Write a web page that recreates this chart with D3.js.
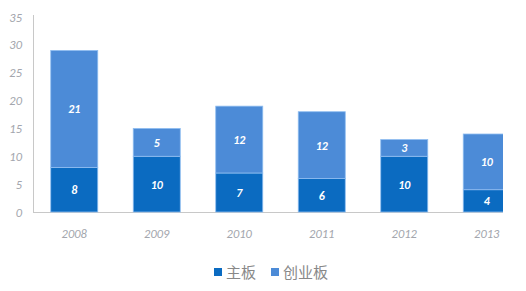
<!DOCTYPE html>
<html lang="zh-CN">
<head>
<meta charset="UTF-8">
<title>主板 / 创业板</title>
<script src="https://d3js.org/d3.v7.min.js"></script>
<style>
    body { margin: 0; background: #fff; }
    svg { display: block; font-family: Calibri, Carlito, "Open Sans", "DejaVu Sans", sans-serif; }
    .tick-label { font-size: 12.5px; font-style: italic; fill: #a3a6ad; }
    .bar-label { font-size: 12px; font-style: italic; font-weight: bold; fill: #fff; text-anchor: middle; }
    .legend-text { font-size: 15px; fill: #888; font-family: "Noto Sans CJK SC", sans-serif; }
</style>
</head>
<body>
<div id="chart"></div>
<script>
    const years = ["2008", "2009", "2010", "2011", "2012", "2013"];
    const mainBoard = [8, 10, 7, 6, 10, 4];
    const gemBoard = [21, 5, 12, 12, 3, 10];
    const seriesNames = ["主板", "创业板"];
    const seriesColors = ["#0b6bc1", "#4c8bd7"];
    const yTicks = [0, 5, 10, 15, 20, 25, 30, 35];

    const width = 526, height = 291;
    const axisX = 33;

    const svg = d3.select("#chart").append("svg")
        .attr("width", width)
        .attr("height", height);

    const x = d3.scaleBand()
        .domain(years)
        .range([axisX, 528])
        .paddingInner(0.43)
        .paddingOuter(0.215);

    const y = d3.scaleLinear()
        .domain([0, 35])
        .range([212, 17]);

    // 堆叠数据
    const rows = years.map((yr, i) => ({ year: yr, main: mainBoard[i], gem: gemBoard[i] }));
    const stack = d3.stack().keys(["main", "gem"])(rows);

    // 右边被裁切
    svg.append("clipPath").attr("id", "plot-clip")
        .append("rect").attr("x", 0).attr("y", 0).attr("width", 503).attr("height", height);

    // 坐标轴线
    svg.append("line")
        .attr("x1", axisX).attr("x2", 503)
        .attr("y1", y(0) + 0.5).attr("y2", y(0) + 0.5)
        .attr("stroke", "#c8c8c8");
    svg.append("line")
        .attr("x1", axisX + 0.5).attr("x2", axisX + 0.5)
        .attr("y1", y(35) - 2).attr("y2", y(0) + 1)
        .attr("stroke", "#c8c8c8");

    svg.selectAll(".ytick")
        .data(yTicks)
        .enter().append("text")
        .attr("class", "tick-label")
        .attr("x", 22)
        .attr("y", d => y(d) + 4.5)
        .attr("text-anchor", "end")
        .text(d => d);

    svg.selectAll(".xtick")
        .data(years)
        .enter().append("text")
        .attr("class", "tick-label")
        .attr("x", d => Math.min(x(d) + x.bandwidth() / 2, 488))
        .attr("y", 238)
        .attr("text-anchor", "middle")
        .text(d => d);

    const layers = svg.append("g")
        .attr("clip-path", "url(#plot-clip)")
        .selectAll("g")
        .data(stack)
        .enter().append("g")
        .attr("fill", (d, i) => seriesColors[i]);

    layers.selectAll("rect")
        .data(d => d)
        .enter().append("rect")
        .attr("x", d => x(d.data.year))
        .attr("y", d => y(d[1]))
        .attr("width", x.bandwidth())
        .attr("height", d => y(d[0]) - y(d[1]))
        .attr("stroke", "#8fbdf0")
        .attr("stroke-width", 0.8);

    // 数值标签
    stack.forEach(layer => {
        svg.selectAll(null)
            .data(layer)
            .enter().append("text")
            .attr("class", "bar-label")
            .attr("x", d => Math.min(x(d.data.year) + x.bandwidth() / 2, 487))
            .attr("y", d => y((d[0] + d[1]) / 2) + 4.5)
            .text(d => d[1] - d[0]);
    });

    // 图例
    const legend = svg.append("g");
    const legendX = [214, 271];
    seriesNames.forEach((name, i) => {
        legend.append("rect")
            .attr("x", legendX[i])
            .attr("y", 268)
            .attr("width", 8).attr("height", 8)
            .attr("fill", seriesColors[i]);
        legend.append("text")
            .attr("class", "legend-text")
            .attr("x", legendX[i] + 12)
            .attr("y", 278)
            .text(name);
    });
</script>
</body>
</html>
